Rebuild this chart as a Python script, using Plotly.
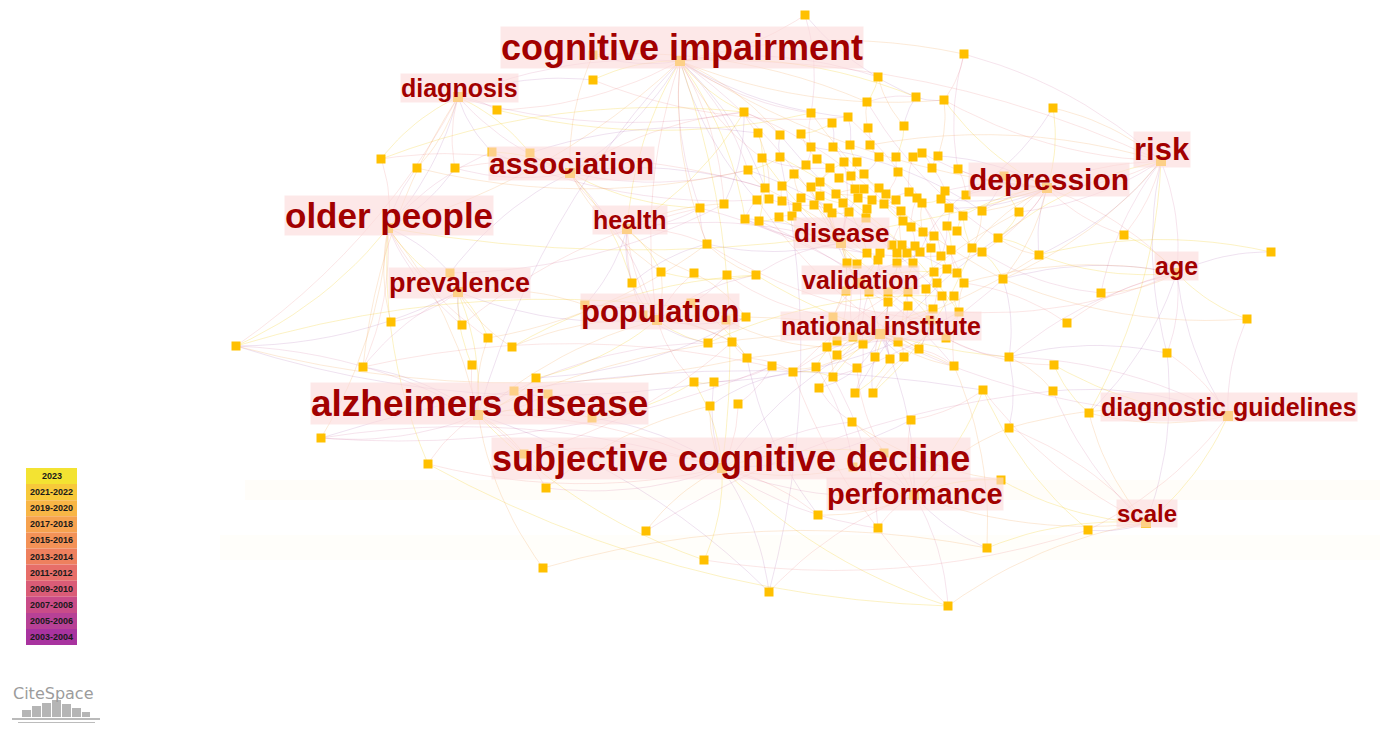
import plotly.graph_objects as go

# ---------------------------------------------------------------------------
# Keyword co-occurrence network (CiteSpace style)
# ---------------------------------------------------------------------------

# Labelled keywords (hub nodes) and their node positions in layout space
hub_names = [
    "cognitive impairment", "diagnosis", "association", "older people", "health",
    "prevalence", "population", "alzheimers disease", "subjective cognitive decline",
    "performance", "disease", "validation", "national institute", "depression",
    "risk", "age", "diagnostic guidelines", "scale",
]
hub_x = [680, 458, 570, 388, 627, 458, 657, 478, 722, 914, 841, 860, 880, 1047, 1161, 1177, 1228, 1146]
hub_y = [61, 97, 173, 228, 229, 292, 320, 415, 468, 495, 243, 283, 334, 188, 161, 273, 416, 523]

# Label placement (centre of each keyword label)
label_x = [682, 459, 571, 389, 630, 459, 660, 479, 731, 915, 841, 860, 881, 1049, 1162, 1176, 1229, 1147]
label_y = [47, 88, 163, 215, 220, 283, 311, 403, 458, 494, 233, 280, 326, 179, 149, 266, 407, 513]
label_size = [36, 25, 30, 35, 25, 27, 31, 37, 36, 29, 26, 25, 25, 30, 31, 25, 25, 24]

# Unlabelled keyword nodes
node_x = [
    # dense core, upper part (0-76)
    744, 811, 848, 867, 916, 944, 832, 868, 904, 758,
    780, 801, 811, 833, 850, 870, 762, 780, 817, 806,
    844, 857, 830, 879, 896, 913, 922, 938, 748, 794,
    839, 851, 864, 898, 932, 958, 765, 782, 811, 820,
    855, 864, 879, 886, 909, 945, 966, 757, 769, 782,
    801, 820, 836, 858, 872, 896, 917, 941, 797, 814,
    828, 843, 849, 867, 884, 901, 922, 949, 963, 982,
    745, 759, 779, 792, 832, 866, 903,
    # dense core, middle part (77-124)
    911, 923, 934, 947, 957, 892, 902, 915, 931, 941,
    951, 920, 907, 897, 867, 880, 878, 897, 913, 847,
    857, 972, 982, 998, 934, 947, 957, 964, 937, 926,
    942, 954, 933, 959, 908, 888, 888, 908, 846, 869,
    1003, 1039, 756, 746, 707, 724, 700, 1019,
    # dense core, lower part (125-161)
    853, 833, 946, 930, 837, 827, 837, 863, 875, 890,
    904, 919, 898, 857, 833, 816, 793, 772, 747, 954,
    1009, 983, 855, 873, 819, 714, 732, 708, 694, 710,
    738, 1054, 1053, 852, 911, 1009, 1089,
    # periphery (162-216)
    1053, 964, 878, 805, 1124, 1271, 1101, 1067, 1247, 1167,
    1001, 1088, 987, 948, 878, 818, 769, 704, 646, 543,
    546, 524, 428, 321, 592, 548, 514, 536, 472, 363,
    512, 488, 462, 391, 236, 450, 632, 661, 694, 727,
    585, 643, 691, 726, 381, 417, 455, 492, 530, 497,
    593, 593, 884, 853, 1004,
]
node_y = [
    112, 113, 117, 102, 97, 100, 123, 128, 126, 133,
    135, 134, 147, 147, 145, 145, 158, 157, 159, 165,
    162, 162, 168, 157, 157, 157, 153, 156, 170, 174,
    178, 176, 174, 172, 168, 169, 188, 186, 187, 182,
    189, 189, 188, 194, 192, 191, 195, 200, 199, 201,
    198, 196, 194, 198, 200, 200, 198, 199, 207, 205,
    208, 203, 212, 209, 204, 211, 203, 208, 216, 211,
    219, 221, 217, 216, 213, 218, 221,
    227, 232, 236, 226, 231, 245, 245, 246, 248, 256,
    250, 252, 253, 253, 253, 253, 260, 263, 263, 263,
    264, 248, 252, 238, 272, 269, 273, 283, 283, 289,
    296, 296, 309, 312, 306, 302, 292, 292, 291, 292,
    279, 255, 275, 317, 244, 204, 208, 212,
    337, 317, 338, 320, 341, 347, 355, 344, 357, 359,
    357, 349, 342, 368, 377, 367, 372, 366, 358, 366,
    357, 390, 393, 393, 388, 382, 342, 343, 382, 406,
    404, 365, 391, 422, 420, 428, 413,
    108, 54, 77, 15, 235, 252, 293, 323, 319, 353,
    480, 530, 548, 606, 528, 515, 592, 560, 531, 568,
    488, 454, 464, 438, 418, 394, 391, 378, 365, 367,
    347, 338, 325, 322, 346, 273, 283, 272, 273, 275,
    305, 315, 303, 320, 159, 168, 168, 152, 153, 110,
    55, 80, 453, 467, 176,
]

# Links from each labelled keyword to unlabelled nodes
hub_links = {
    "cognitive impairment": [0, 10, 16, 28, 47, 70, 121, 122, 123, 212, 213, 163, 165, 164, 2, 4, 5, 211, 1, 36],
    "diagnosis": [206, 207, 208, 211, 209, 210, 191, 196, 0, 213],
    "association": [209, 210, 206, 208, 197, 198, 199, 0, 28, 36, 123, 212],
    "older people": [206, 207, 208, 196, 195, 191, 194, 197, 184, 185, 193, 209],
    "health": [198, 199, 200, 121, 123, 202, 0, 122, 203],
    "prevalence": [195, 194, 193, 192, 197, 191, 196, 190, 202],
    "population": [202, 203, 204, 205, 199, 200, 201, 198, 152, 151, 153, 119, 120, 189, 192],
    "alzheimers disease": [190, 187, 188, 189, 183, 184, 185, 191, 186, 181, 182, 196, 178, 179, 193],
    "subjective cognitive decline": [183, 182, 186, 179, 180, 177, 176, 150, 153, 154, 155, 158, 159, 214, 215, 184, 185, 178, 175],
    "performance": [177, 176, 175, 174, 172, 158, 159, 215, 214, 146, 160, 178],
    "disease": [70, 71, 72, 73, 74, 75, 58, 59, 60, 61, 62, 91, 96, 97, 115, 119, 121, 29, 38, 20],
    "validation": [96, 97, 115, 116, 113, 112, 93, 92, 94, 126, 125, 105, 101],
    "national institute": [125, 126, 129, 130, 131, 132, 133, 134, 135, 136, 137, 128, 127, 138, 139, 140, 141, 111, 112, 109, 144],
    "depression": [35, 46, 67, 68, 69, 124, 100, 118, 216, 98, 99, 45, 57, 162, 117, 166, 26, 27, 5],
    "risk": [162, 166, 168, 118, 100, 117, 69, 124, 171, 161, 15, 5, 163],
    "age": [167, 170, 168, 169, 171, 117, 118, 104, 110, 145, 161, 166],
    "diagnostic guidelines": [161, 171, 170, 157, 156, 160, 173, 145],
    "scale": [173, 174, 161, 160, 157, 171, 172, 175, 146],
}

# Links between labelled keywords
hub_pairs = [
    ("cognitive impairment", "diagnosis"), ("cognitive impairment", "association"),
    ("cognitive impairment", "health"), ("cognitive impairment", "older people"),
    ("cognitive impairment", "population"), ("cognitive impairment", "disease"),
    ("cognitive impairment", "alzheimers disease"), ("cognitive impairment", "subjective cognitive decline"),
    ("cognitive impairment", "depression"), ("cognitive impairment", "risk"),
    ("diagnosis", "association"), ("diagnosis", "older people"), ("older people", "prevalence"),
    ("older people", "alzheimers disease"), ("association", "health"), ("association", "population"),
    ("prevalence", "population"), ("prevalence", "alzheimers disease"), ("population", "alzheimers disease"),
    ("alzheimers disease", "subjective cognitive decline"), ("subjective cognitive decline", "performance"),
    ("subjective cognitive decline", "national institute"), ("disease", "validation"),
    ("validation", "national institute"), ("depression", "risk"), ("risk", "age"),
    ("age", "diagnostic guidelines"), ("diagnostic guidelines", "scale"), ("performance", "scale"),
    ("depression", "age"), ("national institute", "diagnostic guidelines"),
    ("national institute", "performance"), ("older people", "depression"),
    ("alzheimers disease", "national institute"), ("health", "population"), ("health", "disease"),
]

# Links between unlabelled nodes
node_pairs = [
    (196, 150), (196, 120), (196, 143), (191, 141), (185, 142), (185, 146), (184, 175), (181, 174),
    (179, 173), (180, 157), (178, 17), (206, 0), (207, 28), (208, 36), (209, 47), (210, 9), (211, 1),
    (212, 3), (213, 2), (165, 1), (165, 4), (164, 3), (164, 8), (163, 5), (163, 35), (162, 46),
    (167, 118), (170, 117), (169, 104), (168, 99), (171, 145), (173, 146), (174, 144), (175, 141),
    (176, 139), (177, 143), (186, 153), (182, 154), (183, 151), (188, 152), (189, 120), (192, 119),
    (193, 121), (194, 123), (197, 122), (198, 121), (199, 119), (200, 120), (201, 126), (202, 151),
    (203, 152), (204, 143), (205, 130), (214, 138), (215, 140), (216, 69), (216, 124), (172, 158),
    (159, 146), (158, 149), (160, 145), (161, 156), (157, 145), (156, 127), (155, 142), (154, 141),
    (153, 150), (152, 120), (151, 143),
    (0, 10), (10, 17), (17, 28), (28, 36), (36, 47), (47, 70), (70, 71), (71, 72), (72, 73), (1, 12),
    (12, 19), (19, 29), (29, 37), (37, 49), (49, 58), (58, 73), (2, 14), (14, 21), (21, 31), (31, 40),
    (40, 53), (53, 62), (62, 74), (3, 7), (7, 15), (15, 23), (23, 32), (32, 42), (42, 54), (54, 63),
    (63, 75), (4, 8), (8, 24), (24, 33), (33, 43), (43, 55), (55, 64), (64, 76), (5, 27), (27, 34),
    (34, 45), (45, 57), (57, 66), (66, 78), (35, 46), (46, 67), (67, 80), (68, 81), (69, 98), (76, 82),
    (77, 84), (78, 85), (80, 87), (81, 99), (82, 90), (83, 89), (84, 95), (85, 101), (86, 102),
    (87, 103), (88, 94), (89, 113), (90, 112), (91, 115), (92, 116), (93, 113), (94, 111), (95, 114),
    (96, 126), (97, 125), (101, 106), (102, 105), (103, 104), (104, 110), (105, 109), (106, 128),
    (107, 127), (108, 110), (109, 136), (110, 144), (111, 137), (112, 134), (113, 133), (114, 135),
    (115, 129), (116, 132), (117, 145), (118, 100), (119, 121), (120, 152), (121, 123), (122, 0),
    (124, 100), (125, 131), (126, 130), (127, 145), (128, 136), (129, 140), (130, 139), (131, 138),
    (132, 147), (133, 148), (134, 147), (135, 148), (136, 144), (137, 132), (138, 149), (139, 141),
    (140, 142), (141, 143), (142, 150), (143, 151), (9, 16), (11, 18), (13, 20), (16, 22), (18, 30),
    (20, 39), (22, 38), (25, 44), (26, 34), (30, 41), (39, 51), (41, 52), (44, 56), (48, 59), (50, 60),
    (51, 61), (52, 65), (56, 77), (59, 74), (60, 96), (61, 91), (65, 83), (66, 86), (67, 88), (6, 13),
    (11, 6), (9, 48), (0, 9), (3, 4), (4, 5), (16, 71), (29, 50), (38, 61), (44, 64), (57, 68),
    (68, 98), (79, 88), (77, 79), (80, 86), (98, 99), (99, 117), (100, 118),
    (0, 76), (70, 86), (28, 107), (16, 109), (36, 127), (47, 136), (71, 144), (10, 103), (17, 110),
    (1, 117), (2, 104), (3, 100), (12, 69), (119, 145), (120, 144), (121, 128), (123, 127), (150, 110),
    (152, 107), (143, 118), (141, 99), (139, 117), (147, 100), (148, 98), (149, 124),
]

# Time-slice legend
legend_years = ["2023", "2021-2022", "2019-2020", "2017-2018", "2015-2016", "2013-2014",
                "2011-2012", "2009-2010", "2007-2008", "2005-2006", "2003-2004"]
legend_colors = ["#F3E332", "#F7C93A", "#F8B646", "#F6A24F", "#F39257", "#EE805E",
                 "#E76E69", "#DA5C77", "#C94C88", "#B74196", "#A8339F"]

# ---------------------------------------------------------------------------
W, H = 1383, 729
NODE_COLOR = "#FFC000"
LABEL_COLOR = "#A20000"
link_palette = [
    "rgba(246,214,70,0.40)", "rgba(244,168,90,0.30)", "rgba(232,120,120,0.24)",
    "rgba(196,84,140,0.20)", "rgba(150,70,160,0.20)",
]

hub_pos = {n: (x, y) for n, x, y in zip(hub_names, hub_x, hub_y)}


def arc(p, q, k, steps=12):
    """Gently curved link between two points (quadratic Bezier)."""
    (x0, y0), (x1, y1) = p, q
    dx, dy = x1 - x0, y1 - y0
    length = (dx * dx + dy * dy) ** 0.5 or 1.0
    bend = 0.12 * length * (1 if k % 2 == 0 else -1)
    cx = (x0 + x1) / 2 - dy / length * bend
    cy = (y0 + y1) / 2 + dx / length * bend
    xs, ys = [], []
    for i in range(steps + 1):
        t = i / steps
        xs.append((1 - t) ** 2 * x0 + 2 * (1 - t) * t * cx + t * t * x1)
        ys.append((1 - t) ** 2 * y0 + 2 * (1 - t) * t * cy + t * t * y1)
    return xs, ys


segments = []
for name, targets in hub_links.items():
    for j in targets:
        segments.append((hub_pos[name], (node_x[j], node_y[j])))
for a, b in hub_pairs:
    segments.append((hub_pos[a], hub_pos[b]))
for i, j in node_pairs:
    segments.append(((node_x[i], node_y[i]), (node_x[j], node_y[j])))

buckets = [([], []) for _ in link_palette]
for k, (p, q) in enumerate(segments):
    xs, ys = arc(p, q, k)
    bx, by = buckets[k % len(link_palette)]
    bx.extend(xs + [None])
    by.extend(ys + [None])

fig = go.Figure()

for (bx, by), col in zip(buckets, link_palette):
    fig.add_trace(go.Scatter(
        x=bx, y=by, mode="lines", line=dict(color=col, width=0.8),
        hoverinfo="skip", showlegend=False,
    ))

fig.add_trace(go.Scatter(
    x=node_x, y=node_y, mode="markers",
    marker=dict(symbol="square", size=9, color=NODE_COLOR, line=dict(width=0)),
    hoverinfo="skip", showlegend=False,
))
fig.add_trace(go.Scatter(
    x=hub_x, y=hub_y, mode="markers",
    marker=dict(symbol="square", size=10, color=NODE_COLOR, line=dict(width=0)),
    text=hub_names, hoverinfo="text", showlegend=False,
))

annotations = []
for name, lx, ly, fs in zip(hub_names, label_x, label_y, label_size):
    annotations.append(dict(
        x=lx, y=ly, xref="x", yref="y", text=name, showarrow=False,
        font=dict(family="Liberation Sans", size=fs, color=LABEL_COLOR, weight="bold"),
        bgcolor="rgba(252,218,218,0.62)", borderpad=0,
        xanchor="center", yanchor="middle",
    ))

shapes = []
# faint background bands
shapes.append(dict(type="rect", x0=245, x1=1380, y0=480, y1=500, xref="x", yref="y",
                   fillcolor="rgba(255,215,110,0.04)", line=dict(width=0), layer="below"))
shapes.append(dict(type="rect", x0=220, x1=1380, y0=535, y1=560, xref="x", yref="y",
                   fillcolor="rgba(255,215,110,0.035)", line=dict(width=0), layer="below"))

# time-slice legend
row_h = 16.1
for i, (yr, col) in enumerate(zip(legend_years, legend_colors)):
    y0 = 468 + i * row_h
    shapes.append(dict(type="rect", x0=26, x1=77, y0=y0, y1=y0 + row_h, xref="x", yref="y",
                       fillcolor=col, line=dict(width=0), layer="above"))
    annotations.append(dict(
        x=51.5, y=y0 + row_h / 2, xref="x", yref="y", text=yr, showarrow=False,
        font=dict(family="Liberation Sans", size=9, color="#1a1a1a", weight="bold"),
        xanchor="center", yanchor="middle",
    ))

# CiteSpace logo
annotations.append(dict(
    x=53, y=693, xref="x", yref="y", text="CiteSpace", showarrow=False,
    font=dict(family="DejaVu Sans", size=16, color="#9c9c9c"),
    xanchor="center", yanchor="middle",
))
logo_bars = [(22, 31, 710), (32, 41, 706), (42, 51, 703), (52, 61, 700), (62, 71, 704), (72, 81, 708), (82, 90, 712)]
for x0, x1, top in logo_bars:
    shapes.append(dict(type="rect", x0=x0, x1=x1, y0=top, y1=717, xref="x", yref="y",
                       fillcolor="rgba(150,150,150,0.7)", line=dict(width=0), layer="above"))
shapes.append(dict(type="line", x0=12, x1=100, y0=719, y1=719, xref="x", yref="y",
                   line=dict(color="rgba(140,140,140,0.8)", width=1.5), layer="above"))
shapes.append(dict(type="line", x0=18, x1=95, y0=722.5, y1=722.5, xref="x", yref="y",
                   line=dict(color="rgba(160,160,160,0.7)", width=1), layer="above"))

fig.update_layout(
    width=W, height=H, margin=dict(l=0, r=0, t=0, b=0),
    paper_bgcolor="white", plot_bgcolor="white",
    xaxis=dict(range=[0, W], visible=False, fixedrange=True),
    yaxis=dict(range=[H, 0], visible=False, fixedrange=True),
    annotations=annotations, shapes=shapes, showlegend=False,
)

fig.write_html("out.html")
